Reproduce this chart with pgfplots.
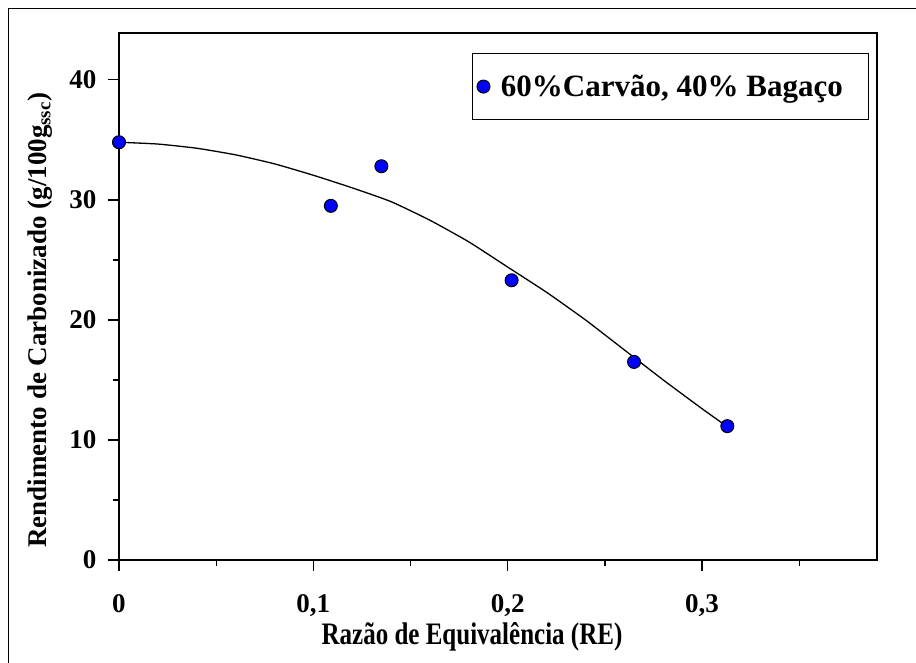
\documentclass[border=0pt]{standalone}
\usepackage{pgfplots}
\pgfplotsset{compat=1.18}
\usepackage{fontspec}
\setmainfont{Liberation Serif}
\begin{document}
\begin{tikzpicture}
\begin{axis}[
  scale only axis,
  width=758pt, height=527pt,
  xmin=0, xmax=0.39, ymin=0, ymax=43.9,
  axis line style={line width=1.3pt},
  xtick={0,0.1,0.2,0.3},
  minor xtick={0.05,0.15,0.25,0.35},
  ytick={0,10,20,30,40},
  minor ytick={5,15,25,35},
  xtick pos=bottom, ytick pos=left,
  tick align=outside,
  major tick length=11pt, minor tick length=6pt,
  every tick/.style={line width=1.3pt, black},
  /pgf/number format/.cd, use comma, assume math mode=true, /pgfplots/.cd,
  xticklabel style={font=\bfseries\fontsize{27}{27}\selectfont, yshift=-20pt},
  yticklabel style={font=\bfseries\fontsize{27}{27}\selectfont, xshift=-8pt},
  xticklabel={\pgfmathprintnumber[fixed, precision=1]{\tick}},
  xlabel={\scalebox{1}[1.25]{Razão de Equivalência (RE)}},
  xlabel style={font=\bfseries\fontsize{25}{25}\selectfont, at={(axis description cs:0.4657,0)}, anchor=base, yshift=-85pt},
  ylabel={Rendimento de Carbonizado (g/100g\textsubscript{ssc})},
  ylabel style={font=\bfseries\fontsize{27}{27}\selectfont, at={(axis description cs:-0.104,0.455)}, anchor=center},
  legend style={at={(axis description cs:0.4657,0.962)}, anchor=north west, draw=black, line width=1pt,
    font=\bfseries\fontsize{31}{31}\selectfont, inner xsep=4pt, inner ysep=19.5pt},
  legend image code/.code={\pgfpathrectangle{\pgfpoint{-7pt}{-7pt}}{\pgfpoint{22.5pt}{14pt}}\pgfusepath{use as bounding box}%
    \draw[#1, mark size=6.5pt, mark options={fill=blue, draw=black, line width=1pt}] plot coordinates {(0pt,0pt)};},
]
\addplot[black, line width=1.3pt, smooth, tension=0.3, forget plot] coordinates {
(0,34.8) (0.02,34.65) (0.04,34.3) (0.06,33.75) (0.08,33.0) (0.10,32.05)
(0.12,31.0) (0.14,29.85) (0.16,28.3) (0.18,26.5) (0.20,24.4) (0.22,22.3)
(0.24,20.0) (0.26,17.5) (0.28,15.0) (0.30,12.6) (0.313,11.1)};
\addplot[only marks, mark=*, mark size=6.5pt, mark options={fill=blue, draw=black, line width=1pt}] coordinates {
(0,34.8) (0.109,29.5) (0.135,32.8) (0.202,23.3) (0.265,16.5) (0.313,11.15)};
\addlegendentry{60\%Carvão, 40\% Bagaço\hspace*{20pt}}
\end{axis}
\draw[line width=1pt] (-110pt,-110pt) -- (-110pt,551pt) -- (800pt,551pt);
\pgfresetboundingbox
\path[use as bounding box] (-119pt,-103pt) rectangle (797pt,560pt);
\end{tikzpicture}
\end{document}
